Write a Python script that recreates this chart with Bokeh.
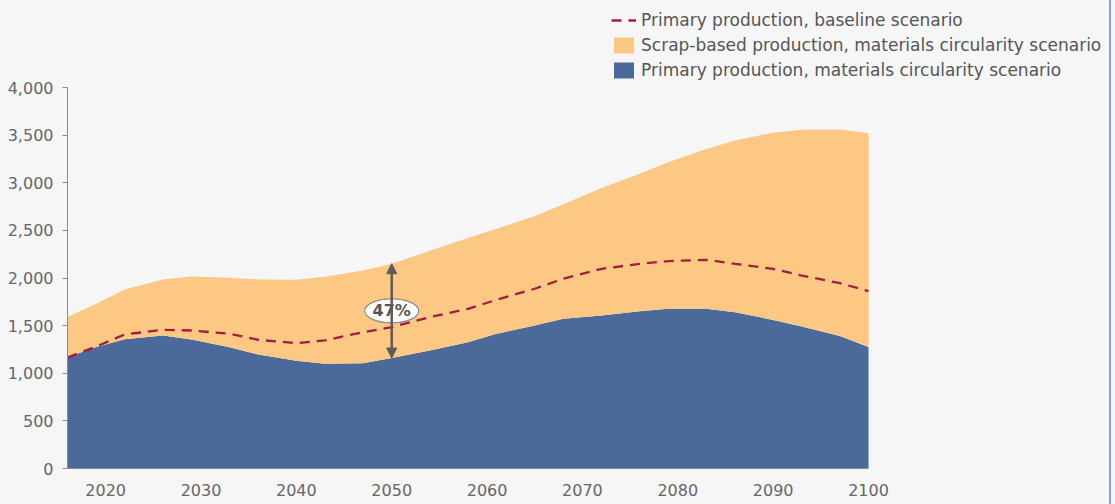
from bokeh.plotting import figure
from bokeh.models import (ColumnDataSource, Legend, LegendItem, Arrow, NormalHead,
                          NumeralTickFormatter, FixedTicker, Range1d)
from bokeh.core.properties import value
from bokeh.embed import file_html
from bokeh.resources import INLINE

# ---- data ----
years = [2016, 2019, 2022, 2026, 2029, 2033, 2036, 2040, 2043, 2047, 2050, 2054, 2058,
         2061, 2065, 2068, 2072, 2076, 2079, 2083, 2086, 2090, 2093, 2097, 2100]
primary_circ = [1169, 1275, 1358, 1396, 1355, 1272, 1197, 1130, 1100, 1105, 1160, 1239, 1326,
                1414, 1501, 1571, 1606, 1652, 1676, 1676, 1641, 1560, 1490, 1390, 1275]
total_circ = [1590, 1730, 1880, 1985, 2015, 2002, 1985, 1982, 2012, 2079, 2150, 2285, 2420,
              2516, 2650, 2775, 2945, 3095, 3216, 3355, 3444, 3525, 3556, 3558, 3520]
primary_base = [1165, 1281, 1407, 1456, 1449, 1414, 1351, 1316, 1345, 1431, 1484, 1589, 1676,
                1771, 1887, 1992, 2096, 2149, 2177, 2191, 2149, 2096, 2026, 1946, 1862]
x_ticks = [2020, 2030, 2040, 2050, 2060, 2070, 2080, 2090, 2100]
y_ticks = [0, 500, 1000, 1500, 2000, 2500, 3000, 3500, 4000]
label_names = ["Primary production, baseline scenario",
               "Scrap-based production, materials circularity scenario",
               "Primary production, materials circularity scenario"]
annot_year = 2050
annot_text = "47%"
annot_label_y = 1655

BG = "#f6f6f6"
BLUE = "#4b6a9a"
ORANGE = "#fdc883"
RED = "#a41c40"
FONT = "DejaVu Sans"

# ---- layout (pixels) ----
W, H = 1111, 504
LEFT, BOTTOM, RIGHT_BORDER = 67, 36, 4
PLOT_W = 801          # pixels spanned by the data x-extent
PLOT_H = 381          # pixels spanned by 0..4000
x0, x1 = years[0], years[-1]
y_top = y_ticks[-1]
frame_w = W - LEFT - RIGHT_BORDER
frame_h = H - BOTTOM
px_per_x = PLOT_W / (x1 - x0)
px_per_y = PLOT_H / y_top
x_end = x0 + frame_w / px_per_x
y_end = frame_h / px_per_y

src = ColumnDataSource(dict(x=years, blue=primary_circ, total=total_circ, base=primary_base,
                            zero=[0] * len(years)))

p = figure(width=W, height=H, output_backend="svg", toolbar_location=None,
           x_range=Range1d(x0, x_end), y_range=Range1d(0, y_end),
           min_border_left=LEFT, min_border_right=RIGHT_BORDER, min_border_top=0,
           min_border_bottom=BOTTOM,
           background_fill_color=BG, border_fill_color=BG, outline_line_color=None)
p.styles = {"border-right": "2px solid #86a6c8"}
p.grid.visible = False

r_blue = p.varea(x="x", y1="zero", y2="blue", source=src, fill_color=BLUE)
r_orange = p.varea(x="x", y1="blue", y2="total", source=src, fill_color=ORANGE)
r_base = p.line(x="x", y="base", source=src, line_color=RED, line_width=2.3, line_dash="10 7")

# annotation: arrow between the two circularity series at 2050
i = years.index(annot_year)
AC = "#5e5a54"
p.add_layout(Arrow(x_start=annot_year, y_start=primary_circ[i], x_end=annot_year, y_end=total_circ[i],
                   line_color=AC, line_width=2.5,
                   start=NormalHead(size=10, fill_color=AC, line_color=AC),
                   end=NormalHead(size=10, fill_color=AC, line_color=AC)))
p.ellipse(x=[annot_year], y=[annot_label_y], width=54, height=24, width_units="screen",
          height_units="screen", fill_color="white", line_color="#8a8a8a", line_width=1.2)
p.text(x=[annot_year], y=[annot_label_y], text=[annot_text], text_align="center",
       text_baseline="middle", text_font=value(FONT), text_font_style="bold",
       text_font_size="16px", text_color="#555555")

# axes
p.yaxis.ticker = FixedTicker(ticks=y_ticks)
p.yaxis.bounds = (0, y_top)
p.yaxis.formatter = NumeralTickFormatter(format="0,0")
p.yaxis.major_tick_out = 5
p.yaxis.major_tick_in = 0
p.yaxis.minor_tick_line_color = None
p.yaxis.axis_line_color = "#8c8c8c"
p.yaxis.major_tick_line_color = "#8c8c8c"
p.yaxis.major_label_standoff = 9
p.xaxis.ticker = FixedTicker(ticks=x_ticks)
p.xaxis.bounds = (x0, x1)
p.xaxis.major_tick_line_color = None
p.xaxis.minor_tick_line_color = None
p.xaxis.major_tick_out = 0
p.xaxis.major_tick_in = 0
p.xaxis.axis_line_color = "#8c8c8c"
p.xaxis.major_label_standoff = 15
for ax in (p.xaxis, p.yaxis):
    ax.major_label_text_font = FONT
    ax.major_label_text_font_size = "16px"
    ax.major_label_text_color = "#666666"

legend = Legend(items=[LegendItem(label=label_names[0], renderers=[r_base]),
                       LegendItem(label=label_names[1], renderers=[r_orange]),
                       LegendItem(label=label_names[2], renderers=[r_blue])],
                location=(611 - LEFT, frame_h - 80), orientation="vertical",
                glyph_width=25, glyph_height=20, label_height=20, spacing=5,
                label_standoff=5, padding=0, margin=0,
                border_line_color=None, background_fill_alpha=0,
                label_text_font=FONT, label_text_font_size="17px", label_text_color="#555555")
p.add_layout(legend, "center")

html = file_html(p, INLINE)
html = html.replace("<head>", "<head><style>body{background:#f6f6f6;}</style>", 1)
open("out.html", "w").write(html)
